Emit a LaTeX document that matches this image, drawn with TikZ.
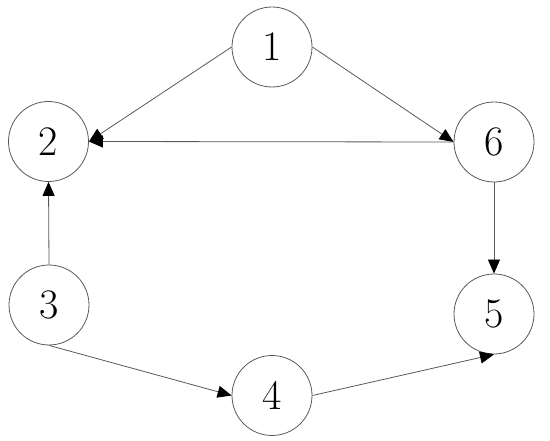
\documentclass[tikz,border=0pt]{standalone}
\usetikzlibrary{arrows.meta}
\begin{document}
\begin{tikzpicture}[x=1pt,y=-1pt,
  vertex/.style={circle,draw=black!65,line width=0.8pt,minimum size=80pt,inner sep=0pt,font=\fontsize{42}{42}\selectfont},
  edge/.style={draw=black!65,line width=0.8pt,-{Triangle[length=14pt,width=12pt,fill=black,color=black]}}]
\useasboundingbox (0,0) rectangle (550,441);
\node[vertex] (n1) at (272,47) {1};
\node[vertex] (n2) at (48.5,141.5) {2};
\node[vertex] (n6) at (494,142) {6};
\node[vertex] (n3) at (49,305) {3};
\node[vertex] (n5) at (494,314) {5};
\node[vertex] (n4) at (272,395.5) {4};
\draw[edge] (n1.west) -- (n2.east);
\draw[edge] (n1.east) -- (n6.west);
\draw[edge] (n6.west) -- (n2.east);
\draw[edge] (n6.south) -- (n5.north);
\draw[edge] (n3.north) -- (n2.south);
\draw[edge] (n3.south) -- (n4.west);
\draw[edge] (n4.east) -- (n5.south);
\end{tikzpicture}
\end{document}
